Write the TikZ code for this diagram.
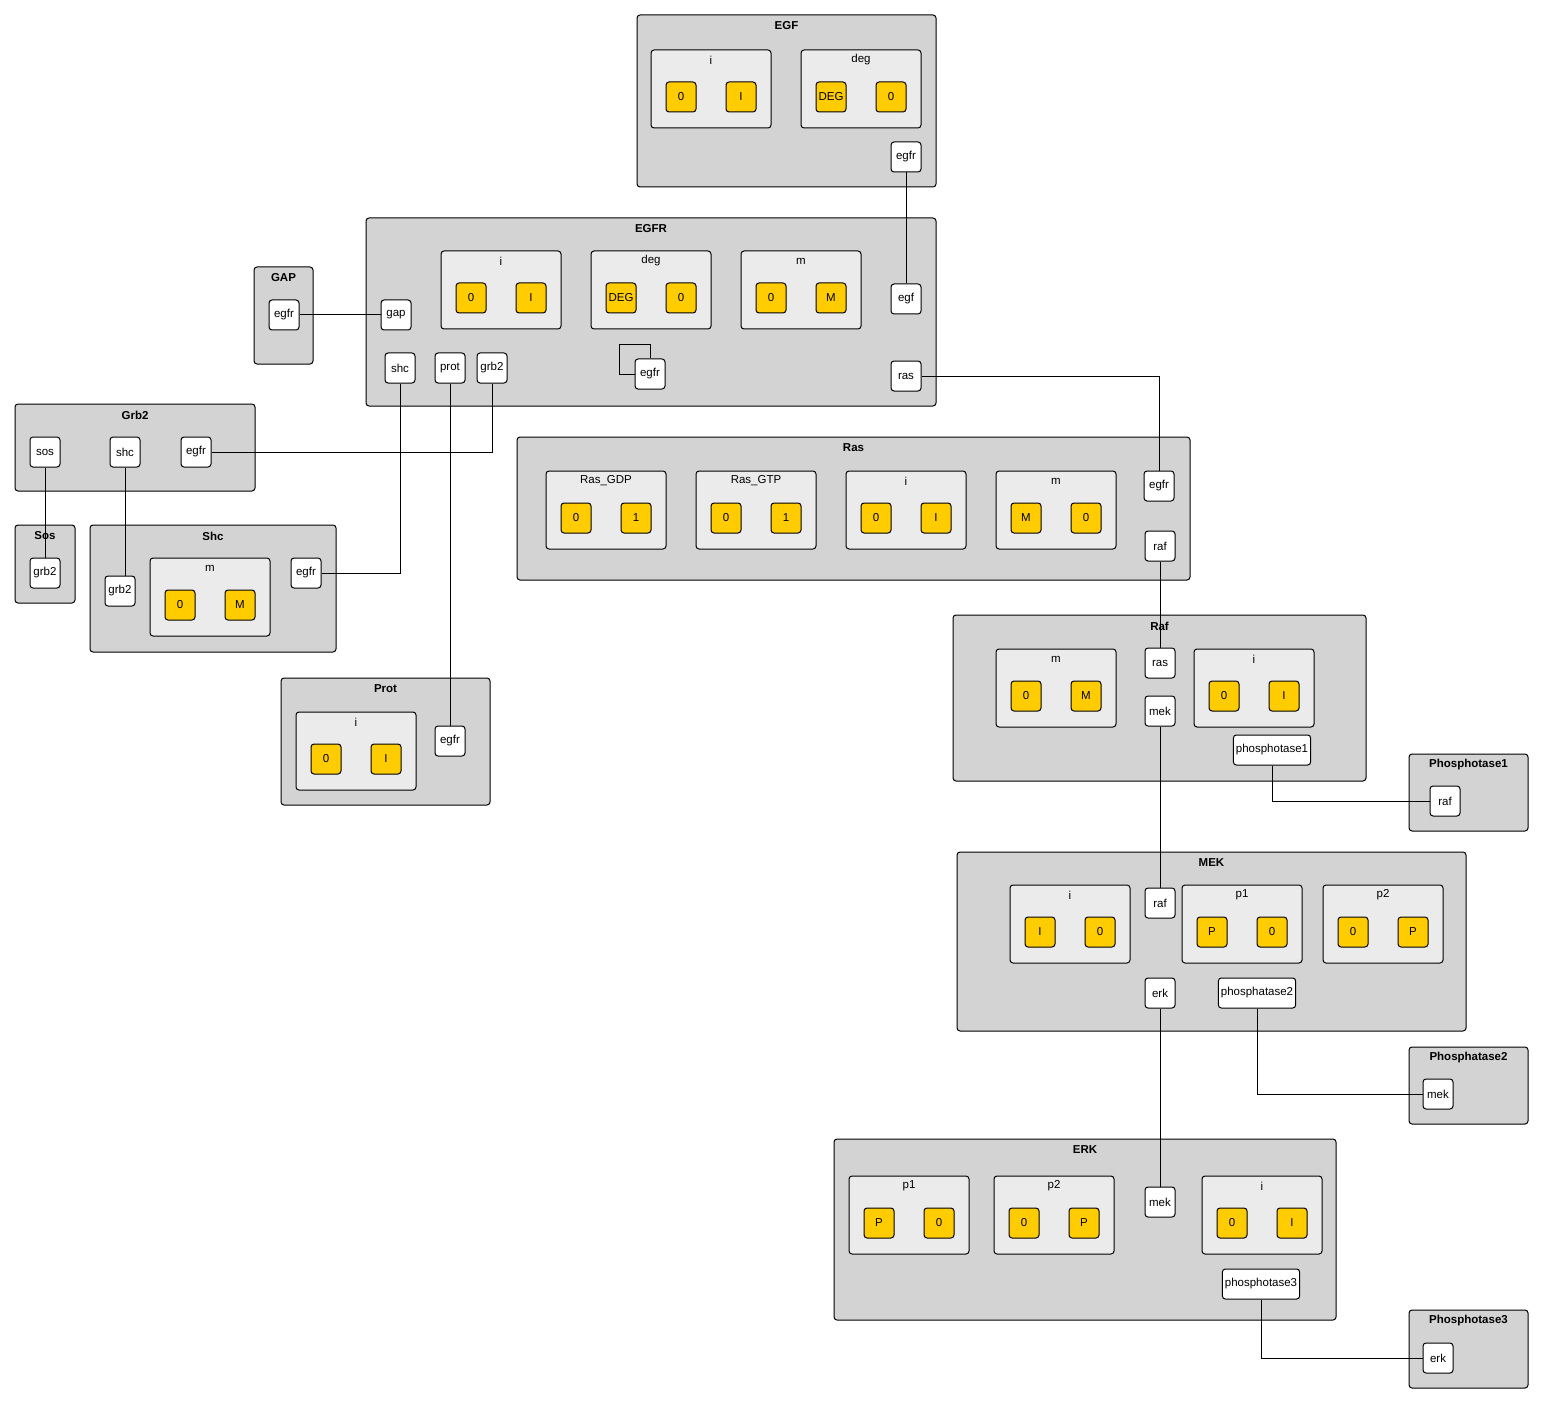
\documentclass[tikz,border=0pt]{standalone}
\usepackage{fontspec}
\setmainfont{Liberation Sans}
\definecolor{molgrey}{HTML}{D3D3D3}
\definecolor{sitegrey}{HTML}{EBEBEB}
\definecolor{stateyellow}{HTML}{FFCC00}

% molecule box: name, x1, y1, x2, y2, title
\newcommand{\mol}[6]{%
  \draw[molbox] (#2,#3) rectangle (#4,#5);
  \node[moltitle] (#1) at ({(#2+#4)/2},{#3+11}) {#6};
}
% site box: name, x, y, label, left value, right value
\newcommand{\site}[6]{%
  \draw[sitebox] (#2,#3) rectangle ++(120,78);
  \node[sitelabel] (#1) at ({#2+60},{#3+10}) {#4};
  \node[state] (#1-a) at ({#2+30},{#3+47}) {#5};
  \node[state] (#1-b) at ({#2+90},{#3+47}) {#6};
}

\begin{document}
\begin{tikzpicture}[x=1pt,y=-1pt,
  molbox/.style={draw, fill=molgrey, rounded corners=3pt, line width=1pt},
  sitebox/.style={draw, fill=sitegrey, rounded corners=3pt, line width=1pt},
  moltitle/.style={font=\bfseries\fontsize{11.5}{13}\selectfont, inner sep=0pt},
  sitelabel/.style={font=\fontsize{11.5}{13}\selectfont, inner sep=0pt},
  state/.style={draw, fill=stateyellow, rounded corners=3pt, minimum size=30pt,
    inner sep=1pt, line width=1pt, font=\fontsize{11.5}{13}\selectfont},
  port/.style={draw, fill=white, rounded corners=3pt, minimum width=30pt,
    minimum height=30pt, inner xsep=2.5pt, line width=1pt,
    font=\fontsize{11.5}{13}\selectfont},
  link/.style={line width=1pt}]
\useasboundingbox (0,0) rectangle (1544,1404);
\fill[white] (0,0) rectangle (1544,1404);

% molecules
\mol{EGF}{637}{15}{936}{187}{EGF}
\mol{EGFR}{366}{218}{936}{406}{EGFR}
\mol{GAP}{254}{267}{313}{364}{GAP}
\mol{Grb2}{15}{404}{255}{491}{Grb2}
\mol{Sos}{15}{525}{75}{603}{Sos}
\mol{Shc}{90}{525}{336}{652}{Shc}
\mol{Prot}{281}{678}{490}{805}{Prot}
\mol{Ras}{517}{437}{1190}{580}{Ras}
\mol{Raf}{953}{615}{1366}{781}{Raf}
\mol{Phos1}{1409}{754}{1528}{831}{Phosphotase1}
\mol{MEK}{957}{852}{1466}{1031}{MEK}
\mol{Phos2}{1409}{1047}{1528}{1124}{Phosphatase2}
\mol{ERK}{834}{1139}{1336}{1320}{ERK}
\mol{Phos3}{1409}{1310}{1528}{1388}{Phosphotase3}

% internal states
\site{egf-i}{651}{50}{i}{0}{I}
\site{egf-deg}{801}{50}{deg}{DEG}{0}
\site{egfr-i}{441}{251}{i}{0}{I}
\site{egfr-deg}{591}{251}{deg}{DEG}{0}
\site{egfr-m}{741}{251}{m}{0}{M}
\site{shc-m}{150}{558}{m}{0}{M}
\site{prot-i}{296}{712}{i}{0}{I}
\site{ras-gdp}{546}{471}{Ras\_GDP}{0}{1}
\site{ras-gtp}{696}{471}{Ras\_GTP}{0}{1}
\site{ras-i}{846}{471}{i}{0}{I}
\site{ras-m}{996}{471}{m}{M}{0}
\site{raf-m}{996}{649}{m}{0}{M}
\site{raf-i}{1194}{649}{i}{0}{I}
\site{mek-i}{1010}{885}{i}{I}{0}
\site{mek-p1}{1182}{885}{p1}{P}{0}
\site{mek-p2}{1323}{885}{p2}{0}{P}
\site{erk-p1}{849}{1176}{p1}{P}{0}
\site{erk-p2}{994}{1176}{p2}{0}{P}
\site{erk-i}{1202}{1176}{i}{0}{I}

% binding sites
\node[port] (egf-egfr) at (906,157) {egfr};
\node[port] (egfr-gap) at (396,315) {gap};
\node[port] (egfr-egf) at (906,299) {egf};
\node[port] (egfr-shc) at (400,368) {shc};
\node[port] (egfr-prot) at (450,368) {prot};
\node[port] (egfr-grb2) at (492,368) {grb2};
\node[port] (egfr-egfr) at (650,374) {egfr};
\node[port] (egfr-ras) at (906,376) {ras};
\node[port] (gap-egfr) at (284,315) {egfr};
\node[port] (grb2-sos) at (45,452) {sos};
\node[port] (grb2-shc) at (125,452) {shc};
\node[port] (grb2-egfr) at (196,452) {egfr};
\node[port] (sos-grb2) at (45,573) {grb2};
\node[port] (shc-grb2) at (120,591) {grb2};
\node[port] (shc-egfr) at (306,573) {egfr};
\node[port] (prot-egfr) at (450,741) {egfr};
\node[port] (ras-egfr) at (1159,486) {egfr};
\node[port] (ras-raf) at (1160,546) {raf};
\node[port] (raf-ras) at (1160,663) {ras};
\node[port] (raf-mek) at (1160,711) {mek};
\node[port] (raf-phos) at (1272,750) {phosphotase1};
\node[port] (phos1-raf) at (1445,801) {raf};
\node[port] (mek-raf) at (1160,903) {raf};
\node[port] (mek-erk) at (1160,993) {erk};
\node[port] (mek-phos) at (1257,993) {phosphatase2};
\node[port] (phos2-mek) at (1438,1094) {mek};
\node[port] (erk-mek) at (1160,1202) {mek};
\node[port] (erk-phos) at (1261,1284) {phosphotase3};
\node[port] (phos3-erk) at (1438,1358) {erk};

% bonds
\draw[link] (egf-egfr) -- (egfr-egf);
\draw[link] (gap-egfr) -- (egfr-gap);
\draw[link] (egfr-grb2) |- (grb2-egfr);
\draw[link] (egfr-shc) |- (shc-egfr);
\draw[link] (egfr-prot) -- (prot-egfr);
\draw[link] (egfr-ras) -| (ras-egfr);
\draw[link] (egfr-egfr.west) -- ++(-15,0) -- ++(0,-29) -| (egfr-egfr.north);
\draw[link] (grb2-sos) -- (sos-grb2);
\draw[link] (grb2-shc) -- (grb2-shc |- shc-grb2.north);
\draw[link] (ras-raf) -- (raf-ras);
\draw[link] (raf-mek) -- (mek-raf);
\draw[link] (raf-phos) |- (phos1-raf);
\draw[link] (mek-erk) -- (erk-mek);
\draw[link] (mek-phos) |- (phos2-mek);
\draw[link] (erk-phos) |- (phos3-erk);
\end{tikzpicture}
\end{document}
